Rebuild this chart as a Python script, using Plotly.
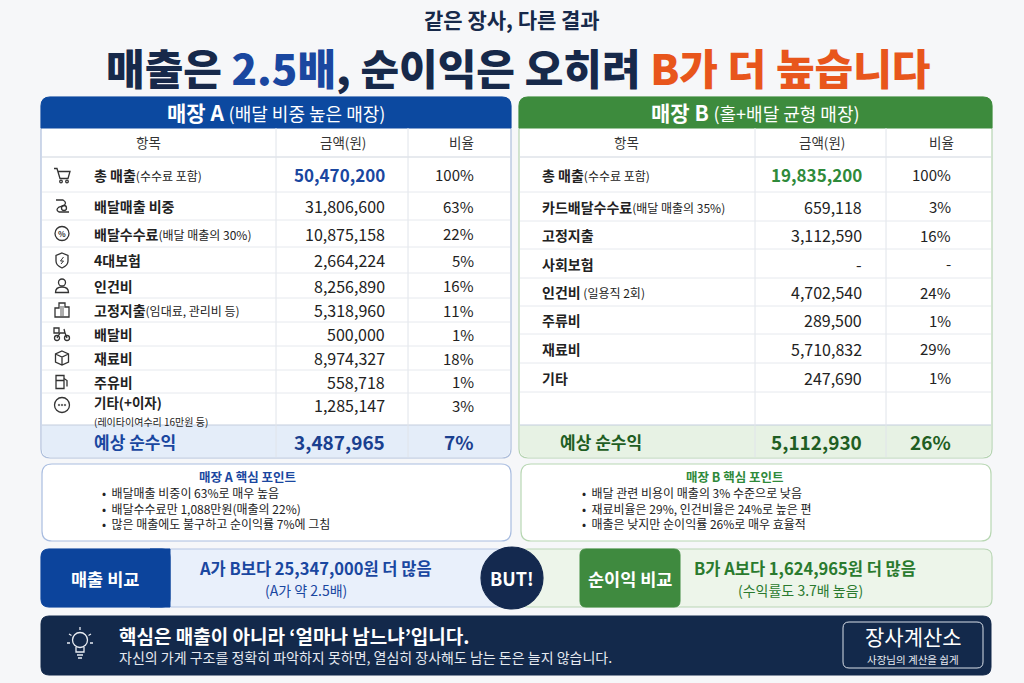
import plotly.graph_objects as go

# ---- data ----
a_items = ["총 매출", "배달매출 비중", "배달수수료", "4대보험", "인건비", "고정지출", "배달비", "재료비", "주유비", "기타(+이자)"]
a_notes = ["(수수료 포함)", "", "(배달 매출의 30%)", "", "", "(임대료, 관리비 등)", "", "", "", ""]
a_sub_note = "(레이타이여수리 16만원 등)"
a_amounts = [50470200, 31806600, 10875158, 2664224, 8256890, 5318960, 500000, 8974327, 558718, 1285147]
a_ratios = [100, 63, 22, 5, 16, 11, 1, 18, 1, 3]
a_net = 3487965
a_net_ratio = 7

b_items = ["총 매출", "카드배달수수료", "고정지출", "사회보험", "인건비", "주류비", "재료비", "기타"]
b_notes = ["(수수료 포함)", "(배달 매출의 35%)", "", "", " (일용직 2회)", "", "", ""]
b_amounts = [19835200, 659118, 3112590, None, 4702540, 289500, 5710832, 247690]
b_ratios = [100, 3, 16, None, 24, 1, 29, 1]
b_net = 5112930
b_net_ratio = 26

a_points = ["배달매출 비중이 63%로 매우 높음",
            "배달수수료만 1,088만원(매출의 22%)",
            "많은 매출에도 불구하고 순이익률 7%에 그침"]
b_points = ["배달 관련 비용이 매출의 3% 수준으로 낮음",
            "재료비율은 29%, 인건비율은 24%로 높은 편",
            "매출은 낮지만 순이익률 26%로 매우 효율적"]

sales_cmp = ["A가 B보다 25,347,000원 더 많음", "(A가 약 2.5배)"]
profit_cmp = ["B가 A보다 1,624,965원 더 많음", "(수익률도 3.7배 높음)"]

FONT = "Noto Sans CJK KR"
NAVY = "#17294a"
BLUE = "#1a47a0"
GREEN = "#2f8a3a"
DKGREEN = "#1f5e23"
ORANGE = "#e8561c"

shapes = []
ann = []


def rrect(x0, y0, x1, y1, r, top=True, bottom=True):
    rt = r if top else 0
    rb = r if bottom else 0
    return (f"M{x0+rt},{y0} L{x1-rt},{y0} Q{x1},{y0} {x1},{y0+rt} "
            f"L{x1},{y1-rb} Q{x1},{y1} {x1-rb},{y1} L{x0+rb},{y1} "
            f"Q{x0},{y1} {x0},{y1-rb} L{x0},{y0+rt} Q{x0},{y0} {x0+rt},{y0} Z")


def add_path(p, fill=None, line=None, width=1):
    shapes.append(dict(type="path", path=p, xref="x", yref="y",
                       fillcolor=fill if fill else "rgba(0,0,0,0)",
                       line=dict(color=line if line else "rgba(0,0,0,0)", width=width),
                       layer="above"))


def add_line(x0, y0, x1, y1, color, width=1):
    shapes.append(dict(type="line", x0=x0, y0=y0, x1=x1, y1=y1, xref="x", yref="y",
                       line=dict(color=color, width=width), layer="above"))


def add_circle(cx, cy, r, fill=None, line=None, width=1.2):
    shapes.append(dict(type="circle", x0=cx-r, y0=cy-r, x1=cx+r, y1=cy+r, xref="x", yref="y",
                       fillcolor=fill if fill else "rgba(0,0,0,0)",
                       line=dict(color=line if line else "rgba(0,0,0,0)", width=width),
                       layer="above"))


def text(x, y, s, size=12, color="#222", anchor="center", weight=None, align="center"):
    f = dict(size=size, color=color, family=FONT)
    if weight:
        f["weight"] = weight
    ann.append(dict(x=x, y=y, text=s, showarrow=False, xref="x", yref="y",
                    xanchor=anchor, yanchor="middle", font=f, align=align))


def icon(kind, cx, cy, c="#333"):
    w = 1.3
    if kind == "cart":
        add_path(f"M{cx-8},{cy-6} L{cx-5},{cy-6} L{cx-2},{cy+4} L{cx+6},{cy+4} L{cx+8},{cy-3} L{cx-4},{cy-3}", line=c, width=w)
        add_circle(cx-1, cy+7, 1.3, line=c, width=w)
        add_circle(cx+5, cy+7, 1.3, line=c, width=w)
    elif kind == "delivery":
        add_path(f"M{cx-6},{cy-6} L{cx+1},{cy-6} Q{cx+6},{cy-3} {cx+1},{cy} L{cx-3},{cy+1} "
                 f"Q{cx-7},{cy+4} {cx-3},{cy+6} L{cx+7},{cy+6}", line=c, width=w)
        add_circle(cx+2, cy+2, 2.5, line=c, width=w)
    elif kind == "percent":
        add_circle(cx, cy, 7, line=c, width=w)
        text(cx, cy, "<b>%</b>", size=8, color=c)
    elif kind == "shield":
        add_path(f"M{cx},{cy-7} L{cx+6},{cy-4.5} L{cx+6},{cy+1} Q{cx+6},{cy+5.5} {cx},{cy+8} "
                 f"Q{cx-6},{cy+5.5} {cx-6},{cy+1} L{cx-6},{cy-4.5} Z", line=c, width=w)
        add_path(f"M{cx+1.5},{cy-3} L{cx-1.5},{cy+1} L{cx+1.5},{cy+1} L{cx-1},{cy+4}", line=c, width=1)
    elif kind == "person":
        add_circle(cx, cy-3, 3.5, line=c, width=w)
        add_path(f"M{cx-6.5},{cy+7} Q{cx-6.5},{cy+1.5} {cx},{cy+1.5} Q{cx+6.5},{cy+1.5} {cx+6.5},{cy+7} Z", line=c, width=w)
    elif kind == "building":
        add_path(f"M{cx-7},{cy+7} L{cx-7},{cy-2} L{cx-3},{cy-2} L{cx-3},{cy-7} L{cx+3},{cy-7} "
                 f"L{cx+3},{cy-3} L{cx+7},{cy-3} L{cx+7},{cy+7} Z", line=c, width=w)
        add_path(f"M{cx-1},{cy-4} L{cx-1},{cy+6} M{cx+1},{cy-4} L{cx+1},{cy+6}", line=c, width=0.8)
    elif kind == "scooter":
        add_circle(cx-5, cy+4, 2.5, line=c, width=w)
        add_circle(cx+5, cy+4, 2.5, line=c, width=w)
        add_path(f"M{cx-5},{cy+4} L{cx-2},{cy-1} L{cx+3},{cy-1} L{cx+5},{cy+4} M{cx+3},{cy-1} L{cx+2},{cy-5}", line=c, width=w)
        add_path(f"M{cx-8},{cy-6} L{cx-3},{cy-6} L{cx-3},{cy-1} L{cx-8},{cy-1} Z", line=c, width=w)
    elif kind == "cube":
        add_path(f"M{cx},{cy-7} L{cx+6.5},{cy-4} L{cx+6.5},{cy+4} L{cx},{cy+7} L{cx-6.5},{cy+4} L{cx-6.5},{cy-4} Z "
                 f"M{cx-6.5},{cy-4} L{cx},{cy-1} L{cx+6.5},{cy-4} M{cx},{cy-1} L{cx},{cy+7}", line=c, width=w)
    elif kind == "fuel":
        add_path(f"M{cx-6},{cy+7} L{cx-6},{cy-6} L{cx+2},{cy-6} L{cx+2},{cy+7} Z M{cx-6},{cy-1} L{cx+2},{cy-1}", line=c, width=w)
        add_path(f"M{cx+2},{cy-3} L{cx+5},{cy-1} L{cx+5},{cy+5}", line=c, width=w)
    elif kind == "dots":
        add_circle(cx, cy, 7.5, line=c, width=w)
        for dx in (-3, 0, 3):
            add_circle(cx+dx, cy, 0.8, fill=c, line=c, width=0.5)


def fmt(v):
    return "-" if v is None else f"{v:,}"


def pct(v):
    return "-" if v is None else f"{v}%"


# ---- page title ----
text(512, 19, "<b>같은 장사, 다른 결과</b>", size=21, color=NAVY)
text(518, 66, f"매출은 <span style='color:{BLUE}'>2.5배</span>, 순이익은 오히려 "
     f"<span style='color:{ORANGE}'>B가 더 높습니다</span>", size=42, color=NAVY, weight=900)

# ---- table panels ----
panels = [
    dict(x0=41, x1=511, head="#0c49a0", border="#aebfdc", band="#e4edf9",
         title="<b>매장 A</b> <span style='font-size:18px'>(배달 비중 높은 매장)</span>",
         d1=276, d2=408, name_x=92, amt_x=387, pct_x=476, net_x=92,
         edges=[157, 192, 220, 247, 273, 298, 322, 346, 370, 393, 425],
         items=a_items, notes=a_notes, amounts=a_amounts, ratios=a_ratios,
         net=a_net, net_ratio=a_net_ratio, total_col=BLUE, net_col=BLUE, net_num="#1a3f8f",
         icons=["cart", "delivery", "percent", "shield", "person", "building", "scooter", "cube", "fuel", "dots"]),
    dict(x0=519, x1=992, head="#3d8b3d", border="#b6d4b2", band="#e7f2e4",
         title="<b>매장 B</b> <span style='font-size:18px'>(홀+배달 균형 매장)</span>",
         d1=755, d2=886, name_x=540, amt_x=864, pct_x=953, net_x=558,
         edges=[157, 192, 221, 249, 278, 306, 334, 363, 392],
         items=b_items, notes=b_notes, amounts=b_amounts, ratios=b_ratios,
         net=b_net, net_ratio=b_net_ratio, total_col=GREEN, net_col=DKGREEN, net_num=DKGREEN,
         icons=None),
]

for p in panels:
    x0, x1 = p["x0"], p["x1"]
    add_path(rrect(x0, 97, x1, 458, 9), fill="white", line=p["border"], width=1.2)
    add_path(rrect(x0, 97, x1, 128, 9, bottom=False), fill=p["head"], line=p["head"])
    add_path(rrect(x0 + 1, 425, x1 - 1, 457, 8, top=False), fill=p["band"])
    add_line(x0 + 1, 425, x1 - 1, 425, "#c3cddd", 1)
    text((x0 + x1) / 2, 112, p["title"], size=21, color="white")
    # column header
    text(x0 + 107, 142, "항목", size=13.5, color="#333")
    text((p["d1"] + p["d2"]) / 2 + 1, 142, "금액(원)", size=13.5, color="#333")
    text((p["d2"] + x1) / 2 + 2, 142, "비율", size=13.5, color="#333")
    add_line(x0 + 1, 157, x1 - 1, 157, "#cfd5de", 1)
    add_line(p["d1"], 128, p["d1"], 457, "#e0e4ea", 1)
    add_line(p["d2"], 128, p["d2"], 457, "#e0e4ea", 1)
    edges = p["edges"]
    for i, item in enumerate(p["items"]):
        top, bot = edges[i], edges[i + 1]
        cy = (top + bot) / 2
        if bot < 425:
            add_line(x0 + 1, bot, x1 - 1, bot, "#e6e9ee", 1)
        has_sub = p["icons"] is not None and i == len(p["items"]) - 1
        ty = cy - 4 if has_sub else cy
        note = p["notes"][i]
        s = f"<b>{item}</b>" + (f"<span style='font-size:12px'>{note}</span>" if note else "")
        if has_sub:
            s += f"<br><span style='font-size:10px'>{a_sub_note}</span>"
            text(p["name_x"], ty + 5, s, size=13.5, color="#222", anchor="left", align="left")
        else:
            text(p["name_x"], ty, s, size=14, color="#222", anchor="left")
        if p["icons"]:
            icon(p["icons"][i], 62, ty)
        if i == 0:
            text(p["amt_x"], ty, f"<b>{fmt(p['amounts'][i])}</b>", size=17, color=p["total_col"], anchor="right")
        else:
            text(p["amt_x"], ty, fmt(p["amounts"][i]), size=16, color="#222", anchor="right")
        text(p["pct_x"], ty, pct(p["ratios"][i]), size=15, color="#222", anchor="right")
    text(p["net_x"], 441, "<b>예상 순수익</b>", size=17, color=p["net_col"], anchor="left")
    text(p["amt_x"], 441, f"<b>{fmt(p['net'])}</b>", size=19, color=p["net_num"], anchor="right")
    text(p["pct_x"], 441, f"<b>{pct(p['net_ratio'])}</b>", size=19, color=p["net_num"], anchor="right")

# ---- key points ----
boxes = [
    dict(x0=42, x1=511, border="#a9bde0", color=BLUE, title="매장 A 핵심 포인트", tx=247, bx=100, pts=a_points),
    dict(x0=521, x1=991, border="#b8d7b3", color=GREEN, title="매장 B 핵심 포인트", tx=735, bx=580, pts=b_points),
]
for b in boxes:
    add_path(rrect(b["x0"], 464, b["x1"], 541, 10), fill="white", line=b["border"], width=1.2)
    text(b["tx"], 476, f"<b>{b['title']}</b>", size=12.5, color=b["color"])
    body = "<br>".join("•  " + s for s in b["pts"])
    text(b["bx"], 508, body, size=12, color="#222", anchor="left", align="left")

# ---- comparison bar ----
add_path(rrect(41, 549, 505, 607, 8), fill="#e9f0fb", line="#b5c6e3", width=1.2)
add_path(rrect(41, 549, 170, 607, 8), fill="#0c449c", line="#0c449c")
add_path("M150,549 L170,549 L170,607 L150,607 Z", fill="#0c449c", line="#0c449c")
text(105, 578, "<b>매출 비교</b>", size=17.5, color="white")
text(315, 568, f"<b>{sales_cmp[0]}</b>", size=16.5, color=BLUE)
text(306, 590, sales_cmp[1], size=14, color=BLUE)

add_path(rrect(520, 549, 992, 607, 8), fill="#edf5ea", line="#b9d6b5", width=1.2)
add_path(rrect(580, 549, 680, 607, 6), fill="#3f8a3f", line="#3f8a3f")
text(630, 578, "<b>순이익 비교</b>", size=17.5, color="white")
text(805, 568, f"<b>{profit_cmp[0]}</b>", size=16.5, color="#2a7a2e")
text(800, 590, profit_cmp[1], size=14, color="#2a7a2e")

add_circle(512, 578, 31, fill="#14294f", line="#14294f")
text(512, 578, "<b>BUT!</b>", size=18, color="white")

# ---- bottom banner ----
add_path(rrect(41, 616, 991, 675, 8), fill="#13294b", line="#13294b")
add_circle(80, 640, 7.5, line="#e8ecf3", width=1.3)
add_path("M76,647 L76,652 L84,652 L84,647 M77,655 L83,655 M78,658 L82,658", line="#e8ecf3", width=1.3)
add_path("M80,627 L80,630 M69,634 L71.5,635.5 M91,634 L88.5,635.5 M67,643 L70,643 M93,643 L90,643",
         line="#e8ecf3", width=1.3)
text(117, 635, "<b>핵심은 매출이 아니라 ‘얼마나 남느냐’입니다.</b>", size=19, color="white", anchor="left")
text(117, 657, "자신의 가게 구조를 정확히 파악하지 못하면, 열심히 장사해도 남는 돈은 늘지 않습니다.",
     size=14, color="#e6eaf1", anchor="left")
add_path(rrect(843, 622, 983, 668, 6), line="#d9dfe8", width=1)
text(913, 636, "장사계산소", size=21, color="white")
text(913, 659.5, "사장님의 계산을 쉽게", size=10.5, color="#e6eaf1")

fig = go.Figure()
fig.update_layout(
    width=1024, height=683, autosize=False,
    margin=dict(l=0, r=0, t=0, b=0),
    paper_bgcolor="#f6f7f9", plot_bgcolor="#f6f7f9",
    font=dict(family=FONT),
    xaxis=dict(range=[0, 1024], visible=False, fixedrange=True),
    yaxis=dict(range=[683, 0], visible=False, fixedrange=True),
    shapes=shapes, annotations=ann, showlegend=False,
)
fig.write_html("out.html", config={"displayModeBar": False},
               post_script="document.body.style.margin='0';")
